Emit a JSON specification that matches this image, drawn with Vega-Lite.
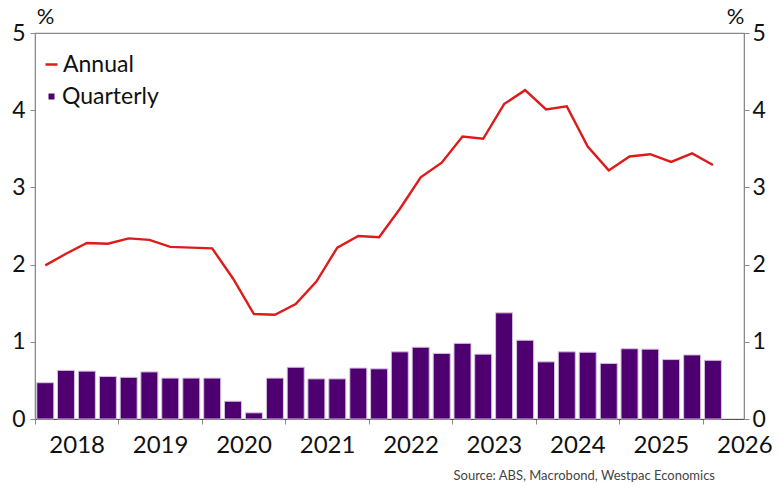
{
  "$schema": "https://vega.github.io/schema/vega-lite/v6.json",
  "width": 709,
  "height": 386,
  "autosize": {"type": "none"},
  "padding": {"left": 35, "top": 33, "right": 36, "bottom": 79},
  "config": {
    "font": "Lato",
    "view": {"stroke": "#8a8a8a", "strokeWidth": 1.2},
    "axis": {
      "grid": false,
      "domainColor": "#8a8a8a",
      "tickColor": "#8a8a8a",
      "labelColor": "#111111",
      "labelFontSize": 23,
      "titleColor": "#111111",
      "titleFontSize": 22,
      "titleFontWeight": "normal"
    },
    "legend": {
      "orient": "none",
      "padding": 0,
      "labelFontSize": 23,
      "labelColor": "#111111",
      "title": null
    }
  },
  "title": {
    "text": "Source: ABS, Macrobond, Westpac Economics",
    "orient": "bottom",
    "anchor": "end",
    "frame": "group",
    "fontSize": 13,
    "fontWeight": "normal",
    "color": "#444444",
    "offset": 13,
    "dx": -29
  },
  "data": {
    "values": [
      {"date": "2018-02-15", "annual": 1.99, "quarterly": 0.47},
      {"date": "2018-05-15", "annual": 2.14, "quarterly": 0.63},
      {"date": "2018-08-15", "annual": 2.28, "quarterly": 0.62},
      {"date": "2018-11-15", "annual": 2.27, "quarterly": 0.55},
      {"date": "2019-02-15", "annual": 2.34, "quarterly": 0.54},
      {"date": "2019-05-15", "annual": 2.32, "quarterly": 0.61},
      {"date": "2019-08-15", "annual": 2.23, "quarterly": 0.53},
      {"date": "2019-11-15", "annual": 2.22, "quarterly": 0.53},
      {"date": "2020-02-15", "annual": 2.21, "quarterly": 0.53},
      {"date": "2020-05-15", "annual": 1.82, "quarterly": 0.23},
      {"date": "2020-08-15", "annual": 1.36, "quarterly": 0.08},
      {"date": "2020-11-15", "annual": 1.35, "quarterly": 0.53},
      {"date": "2021-02-15", "annual": 1.49, "quarterly": 0.67},
      {"date": "2021-05-15", "annual": 1.78, "quarterly": 0.52},
      {"date": "2021-08-15", "annual": 2.22, "quarterly": 0.52},
      {"date": "2021-11-15", "annual": 2.37, "quarterly": 0.66},
      {"date": "2022-02-15", "annual": 2.355, "quarterly": 0.65},
      {"date": "2022-05-15", "annual": 2.72, "quarterly": 0.87},
      {"date": "2022-08-15", "annual": 3.13, "quarterly": 0.93},
      {"date": "2022-11-15", "annual": 3.32, "quarterly": 0.85},
      {"date": "2023-02-15", "annual": 3.66, "quarterly": 0.98},
      {"date": "2023-05-15", "annual": 3.63, "quarterly": 0.84},
      {"date": "2023-08-15", "annual": 4.08, "quarterly": 1.375},
      {"date": "2023-11-15", "annual": 4.26, "quarterly": 1.02},
      {"date": "2024-02-15", "annual": 4.01, "quarterly": 0.74},
      {"date": "2024-05-15", "annual": 4.05, "quarterly": 0.87},
      {"date": "2024-08-15", "annual": 3.53, "quarterly": 0.865},
      {"date": "2024-11-15", "annual": 3.22, "quarterly": 0.72},
      {"date": "2025-02-15", "annual": 3.40, "quarterly": 0.91},
      {"date": "2025-05-15", "annual": 3.43, "quarterly": 0.905},
      {"date": "2025-08-15", "annual": 3.33, "quarterly": 0.77},
      {"date": "2025-11-15", "annual": 3.44, "quarterly": 0.83},
      {"date": "2026-02-15", "annual": 3.29, "quarterly": 0.76}
    ]
  },
  "layer": [
    {
      "mark": {"type": "bar", "width": 17, "stroke": "#d3c2de", "strokeWidth": 1},
      "encoding": {
        "x": {
          "field": "date",
          "type": "temporal",
          "timeUnit": "yearquarter",
          "bandPosition": 0.5,
          "scale": {"domain": ["2018-01-01T00:00:00", "2026-07-01T00:00:00"]},
          "axis": {
            "title": null,
            "values": [
              {"year": 2018}, {"year": 2019}, {"year": 2020}, {"year": 2021}, {"year": 2022},
              {"year": 2023}, {"year": 2024}, {"year": 2025}, {"year": 2026}
            ],
            "format": "%Y",
            "labelFontSize": 24,
            "labelOffset": 41.7,
            "labelFlush": false,
            "labelBound": false,
            "labelOverlap": false,
            "labelPadding": 9,
            "tickSize": 5,
            "domainColor": "#555555"
          }
        },
        "y": {
          "field": "quarterly",
          "type": "quantitative",
          "scale": {"domain": [0, 5]},
          "axis": {
            "orient": "left",
            "values": [0, 1, 2, 3, 4, 5],
            "title": "%",
            "titleAngle": 0,
            "titleAlign": "center",
            "titleBaseline": "alphabetic",
            "titleX": 10,
            "titleY": -10,
            "tickSize": 5,
            "labelPadding": 5
          }
        },
        "fill": {
          "datum": "Quarterly",
          "scale": {"range": ["#4e0070"]},
          "legend": {
            "legendX": 5,
            "legendY": 52,
            "symbolType": "square",
            "symbolSize": 36,
            "symbolStrokeWidth": 0,
            "labelOffset": -1
          }
        }
      }
    },
    {
      "mark": {"type": "line", "strokeWidth": 2.4},
      "encoding": {
        "x": {"field": "date", "type": "temporal", "timeUnit": "yearquarter", "bandPosition": 0.5},
        "y": {
          "field": "annual",
          "type": "quantitative",
          "scale": {"domain": [0, 5]},
          "axis": {
            "orient": "right",
            "values": [0, 1, 2, 3, 4, 5],
            "title": "%",
            "titleAngle": 0,
            "titleAlign": "center",
            "titleBaseline": "alphabetic",
            "titleX": -9,
            "titleY": -10,
            "tickSize": 5,
            "labelPadding": 3
          }
        },
        "stroke": {
          "datum": "Annual",
          "scale": {"range": ["#dd1c1a"]},
          "legend": {
            "legendX": 5,
            "legendY": 20,
            "symbolType": "stroke",
            "symbolSize": 144,
            "symbolStrokeWidth": 2.5,
            "labelOffset": 0
          }
        }
      }
    }
  ],
  "resolve": {"axis": {"y": "independent"}}
}
